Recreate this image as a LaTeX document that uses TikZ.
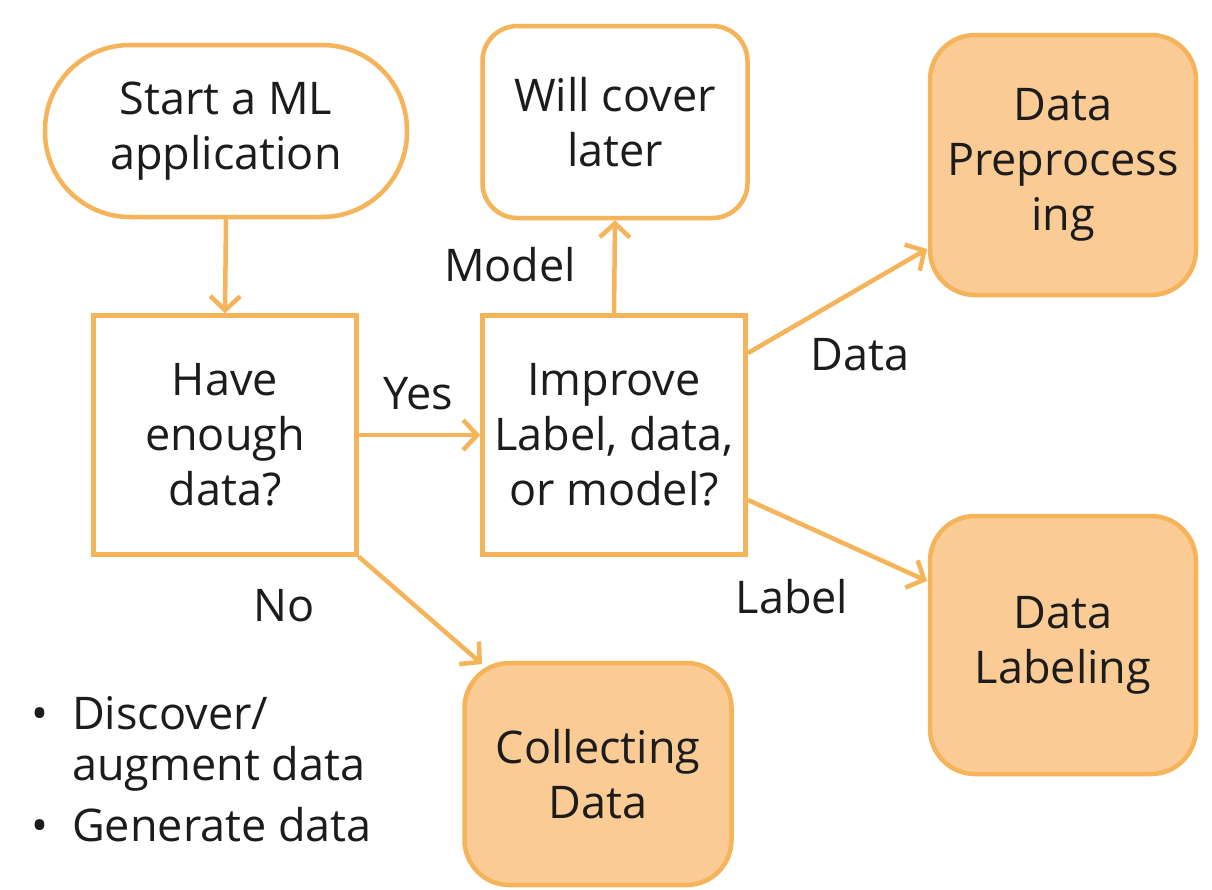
\documentclass[tikz,border=0pt]{standalone}
\usepackage{fontspec}
\setmainfont{Open Sans}
\usetikzlibrary{arrows.meta}
\definecolor{ostroke}{HTML}{F5B35A}
\definecolor{ofill}{HTML}{FACB94}
\definecolor{txt}{HTML}{1C1C1C}
\tikzset{
  box/.style={draw=ostroke, line width=4.5pt, align=center, inner sep=0pt, text=txt,
    font=\fontsize{45}{55}\selectfont},
  conn/.style={draw=ostroke, line width=4.5pt, -{Straight Barb[length=14pt,width=30pt,line width=4.5pt]}},
  lbl/.style={text=txt, font=\fontsize{45}{55}\selectfont, inner sep=0pt}
}
\begin{document}
\begin{tikzpicture}[x=1pt,y=-1pt]
\fill[white] (0,0) rectangle (1212,889);
\useasboundingbox (0,0) rectangle (1212,889);
\node[box, rounded corners=85pt, minimum width=362pt, minimum height=172pt] (start) at (226,131) {Start a ML\\application};
\node[box, minimum width=263pt, minimum height=239pt] (have) at (225,435) {Have\\enough\\data?};
\node[box, minimum width=263pt, minimum height=239pt] (imp) at (614,435) {Improve\\Label, data,\\or model?};
\node[box, rounded corners=35pt, minimum width=265pt, minimum height=192pt] (will) at (615,122) {Will cover\\later};
\node[box, fill=ofill, rounded corners=45pt, minimum width=266pt, minimum height=260pt] (prep) at (1063,165) {Data\\Preprocess\\ing};
\node[box, fill=ofill, rounded corners=45pt, minimum width=266pt, minimum height=258pt] (labl) at (1063,645) {Data\\Labeling};
\node[box, fill=ofill, rounded corners=45pt, minimum width=267pt, minimum height=222pt] (coll) at (598,774) {Collecting\\Data};

\draw[conn] (start.south) -- (have.north);
\draw[conn] (have.east) -- (imp.west);
\draw[conn] (imp.north) -- (will.south);
\coordinate (d1) at (748,353);
\coordinate (d2) at (927,249);
\draw[conn] (d1) -- (d2);
\coordinate (l1) at (748,500);
\coordinate (l2) at (927,581);
\draw[conn] (l1) -- (l2);
\draw[conn] (have.south east) -- (482,664);

\node[lbl] (yes) at (418,394) {Yes};
\node[lbl] (model) at (510,265) {Model};
\node[lbl] (data) at (860,355) {Data};
\node[lbl] (label) at (792,597) {Label};
\node[lbl] (no) at (284,606) {No};

\node[lbl, anchor=west] (b1) at (72,713) {\llap{•\hspace{24pt}}Discover/};
\node[lbl, anchor=west] (b2) at (72,769) {augment data};
\node[lbl, anchor=west] (b3) at (72,825) {\llap{•\hspace{24pt}}Generate data};
\end{tikzpicture}
\end{document}
